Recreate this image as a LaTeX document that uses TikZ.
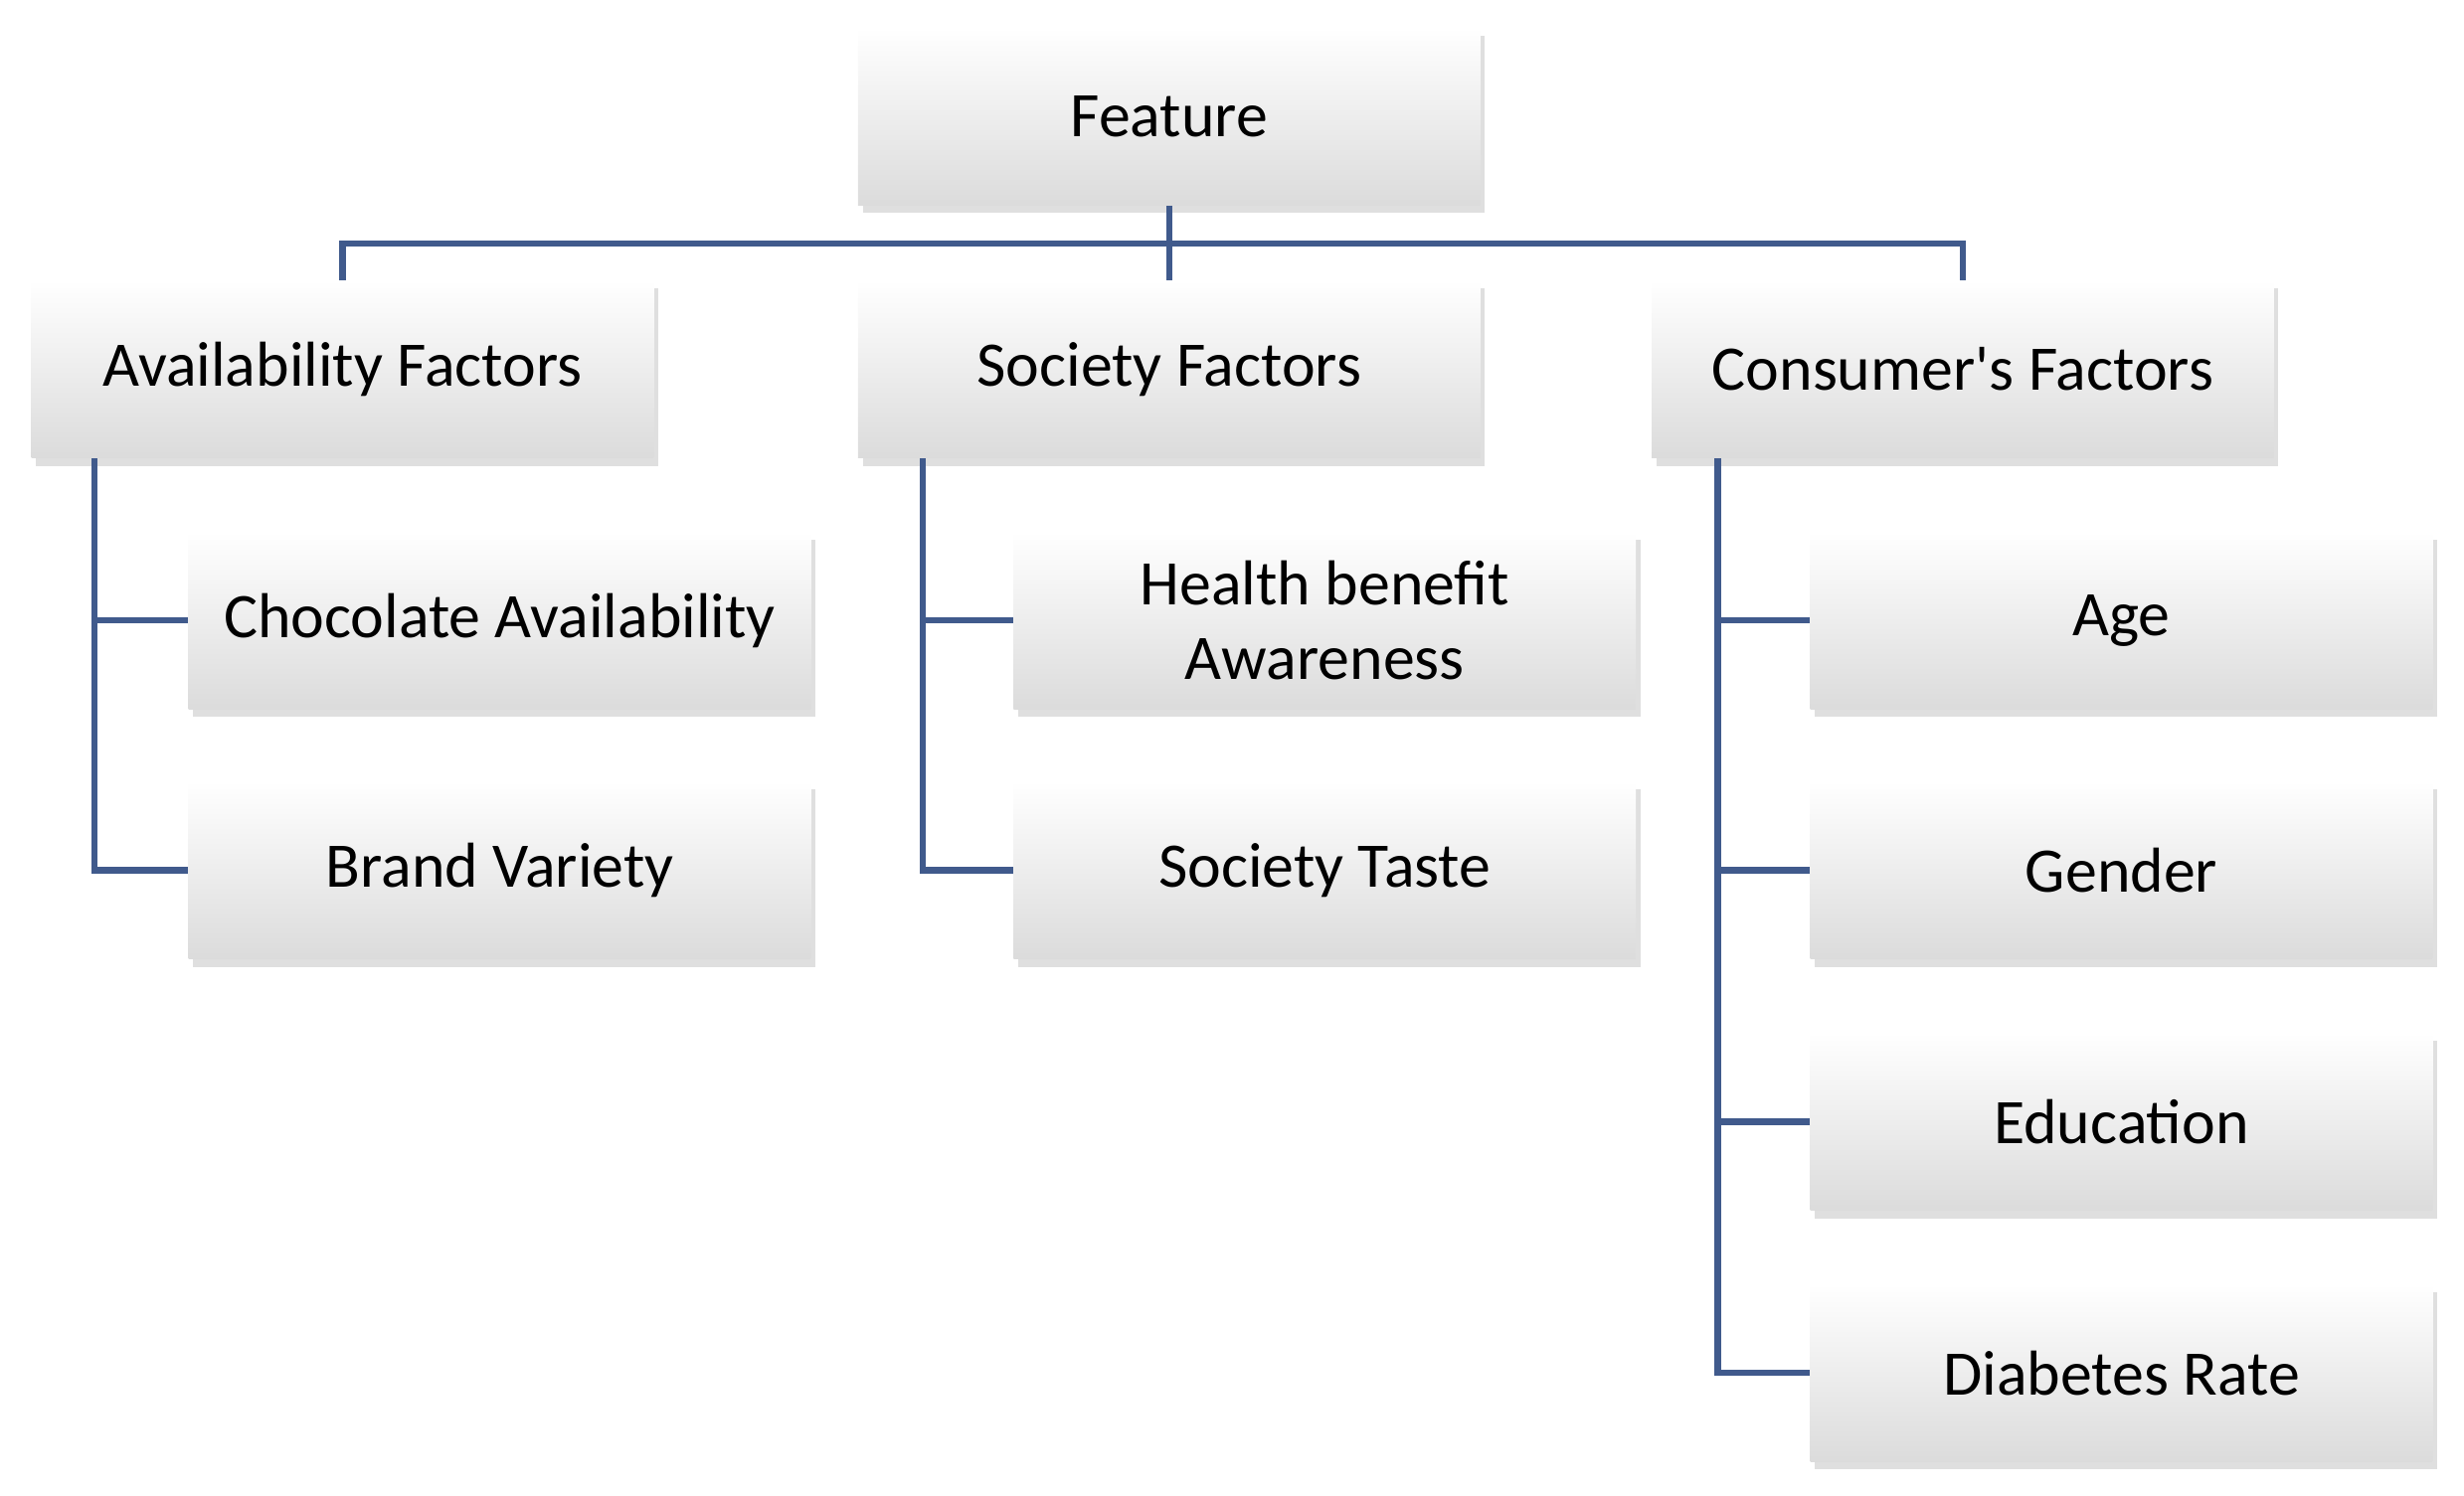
\documentclass[tikz,border=0pt]{standalone}
\usepackage{fontspec}
\setmainfont{Carlito}
\usetikzlibrary{shadows}
\begin{document}
\begin{tikzpicture}[x=0.02cm,y=-0.02cm,
 box/.style={draw=none,top color=white,bottom color=black!14,minimum width=7.92cm,minimum height=2.26cm,
   drop shadow={shadow xshift=0.06cm,shadow yshift=-0.1cm,opacity=0.25},font=\fontsize{23}{27}\selectfont,align=center,inner sep=0pt},
 ln/.style={draw={rgb,255:red,64;green,90;blue,140},line width=0.08cm}]
\useasboundingbox (0,0) rectangle (1568,952);
\node[box] (f) at (744,74) {Feature};
\node[box] (a) at (218,235) {Availability Factors};
\node[box] (s) at (744,235) {Society Factors};
\node[box] (c) at (1249,235) {Consumer\textquotesingle s Factors};
\node[box] (a1) at (318,395) {Chocolate Availability};
\node[box] (a2) at (318,554) {Brand Variety};
\node[box] (s1) at (843,395) {Health benefit\\Awareness};
\node[box] (s2) at (843,554) {Society Taste};
\node[box] (c1) at (1350,395) {Age};
\node[box] (c2) at (1350,554) {Gender};
\node[box] (c3) at (1350,714) {Education};
\node[box] (c4) at (1350,874) {Diabetes Rate};
\coordinate (bus) at (744,155);
\draw[ln] (f.south) -- (bus);
\draw[ln] (a.north) |- (bus) -| (c.north);
\draw[ln] (bus) -- (s.north);
\draw[ln] (60,292) |- (a2.west);
\draw[ln] (60,395) -- (a1.west);
\draw[ln] (587,292) |- (s2.west);
\draw[ln] (587,395) -- (s1.west);
\draw[ln] (1093,292) |- (c4.west);
\draw[ln] (1093,395) -- (c1.west);
\draw[ln] (1093,554) -- (c2.west);
\draw[ln] (1093,714) -- (c3.west);
\end{tikzpicture}
\end{document}
